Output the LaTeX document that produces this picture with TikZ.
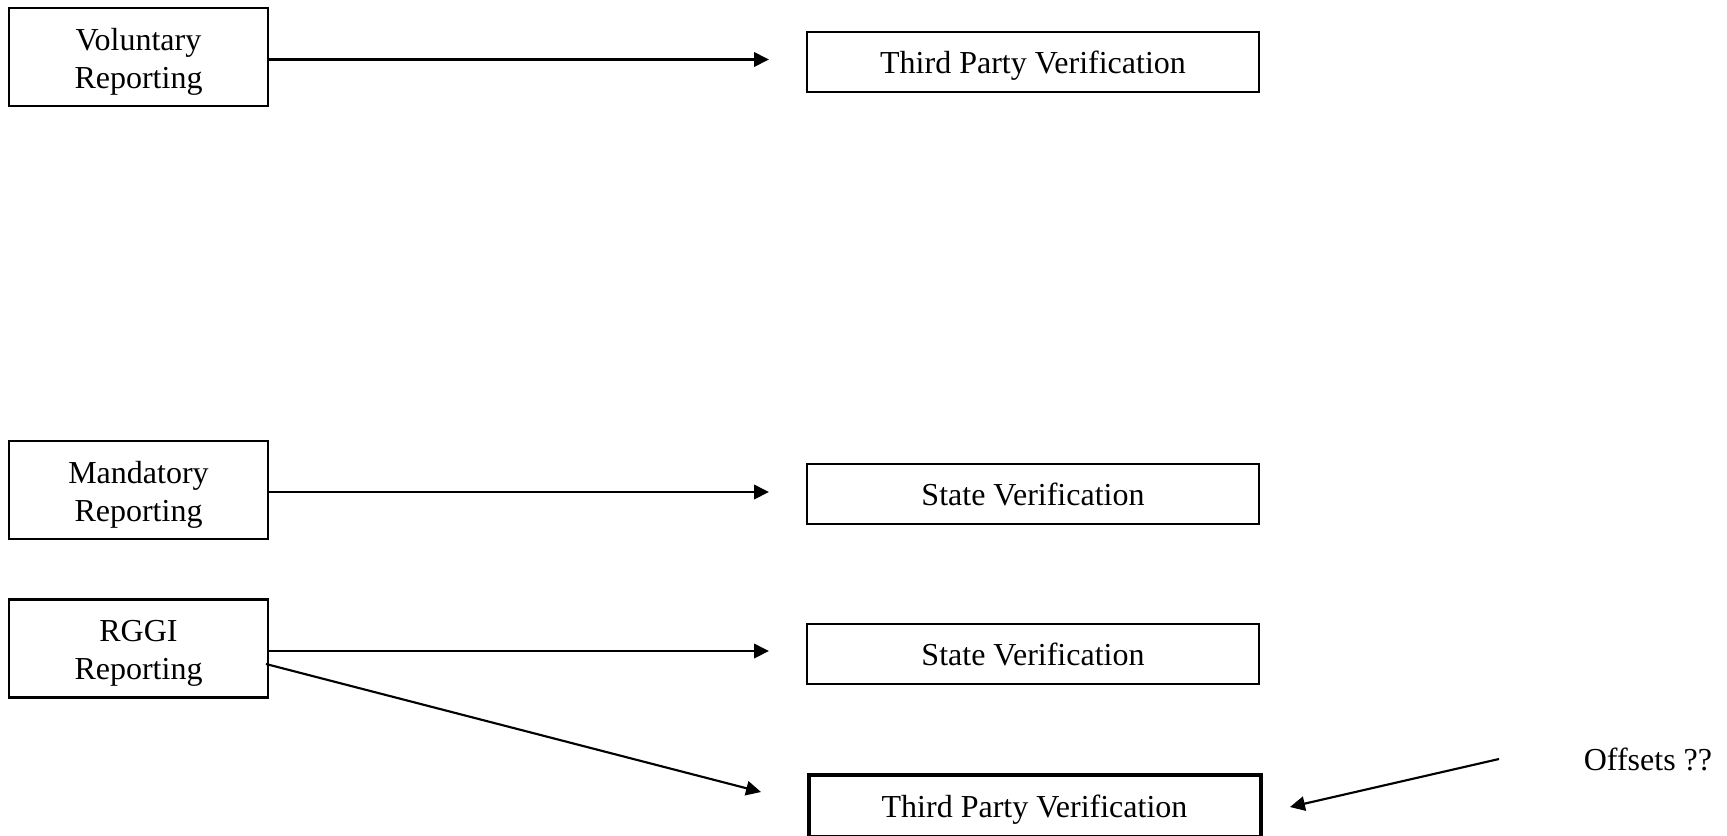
\documentclass[tikz,border=0pt]{standalone}
\usepackage{fontspec}
\setmainfont{Liberation Serif}
\usetikzlibrary{arrows.meta}
\newcommand{\twolines}[2]{\raisebox{-1.7pt}[\height][\depth]{\begin{tabular}{@{}c@{}}#1\\#2\end{tabular}}}
\begin{document}
\begin{tikzpicture}[x=0.375pt,y=-0.375pt,
  every node/.style={font=\fontsize{12}{14.2}\selectfont},
  srcbox/.style={draw, line width=0.9pt, inner sep=0pt,
    minimum width=97.1pt, minimum height=36.75pt},
  tgtbox/.style={draw, line width=0.8pt, inner sep=0pt,
    text height=11.2pt, text depth=2.6pt,
    minimum width=169.5pt, minimum height=22.5pt},
  thickbox/.style={tgtbox, line width=1.5pt, minimum height=23.2pt},
  conn/.style={line width=0.8pt, -{Triangle[length=5.6pt,width=5.4pt]}}]
\useasboundingbox (0,0) rectangle (1727,836);
% source boxes
\node[srcbox] (vol) at (138.5,57) {\twolines{Voluntary}{Reporting}};
\node[srcbox] (man) at (138.5,490) {\twolines{Mandatory}{Reporting}};
\node[srcbox] (rggi) at (138.5,648.5) {\twolines{RGGI}{Reporting}};
% target boxes
\node[tgtbox] (tpv1) at (1033,62) {Third Party Verification};
\node[tgtbox] (sv1) at (1033,494) {State Verification};
\node[tgtbox] (sv2) at (1033,654) {State Verification};
\node[thickbox] (tpv2) at (1034.5,806) {Third Party Verification};
\node (off) at (1648,759) {Offsets ??};
% free ends
\coordinate (e1) at (769,59.5);
\coordinate (e2) at (769,492);
\coordinate (e3) at (769,651);
\coordinate (s4) at (266,664);
\coordinate (e4) at (761,792);
\coordinate (s5) at (1499,759);
\coordinate (e5) at (1290,807);
% connectors
\draw[conn] (vol.east |- e1) -- (e1);
\draw[conn] (man.east |- e2) -- (e2);
\draw[conn] (rggi.east |- e3) -- (e3);
\draw[conn] (s4) -- (e4);
\draw[conn] (s5) -- (e5);
\end{tikzpicture}
\end{document}
